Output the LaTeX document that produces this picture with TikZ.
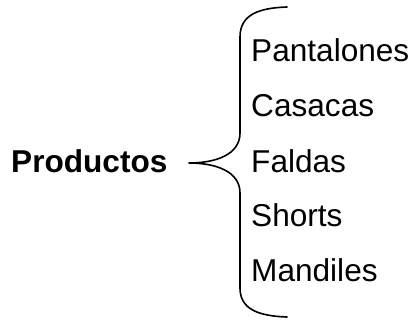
\documentclass[tikz,border=0pt]{standalone}
\usepackage{fontspec}
\setmainfont{Liberation Sans}
\begin{document}
\begin{tikzpicture}[x=1pt,y=-1pt,
  item/.style={anchor=base west,inner sep=0pt,font=\fontsize{31.6}{38}\selectfont},
  title/.style={item,font=\fontsize{31.6}{38}\selectfont\bfseries},
  bracket/.style={draw=black,line width=1.6pt,line cap=round,line join=round}]
  \useasboundingbox (0,0) rectangle (415,320);

  % heading on the left
  \node[title] (prod) at (11,173) {Productos};

  % list of items
  \node[item] (pant) at (251,62)  {Pantalones};
  \node[item] (casa) at (251,117) {Casacas};
  \node[item] (fald) at (251,173) {Faldas};
  \node[item] (shor) at (251,227) {Shorts};
  \node[item] (mand) at (251,282) {Mandiles};

  % brace points
  \coordinate (btop) at (287,7);
  \coordinate (bbot) at (287,317);
  \coordinate (tip)  at (189,163);

  \path[bracket] (btop) .. controls (258,8) and (240,15) .. (240,37)
    -- (240,133) .. controls (240,155) and (215,163) .. (tip)
    .. controls (215,163) and (240,171) .. (240,193)
    -- (240,288) .. controls (240,309) and (258,316) .. (bbot);
\end{tikzpicture}
\end{document}
